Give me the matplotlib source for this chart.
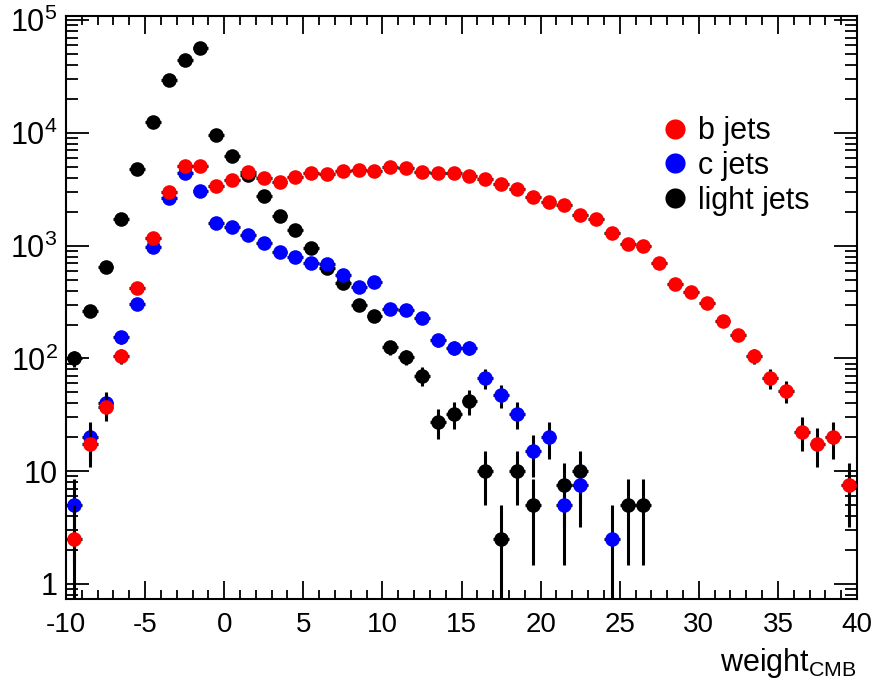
import numpy as np
import matplotlib
matplotlib.use("Agg")
import matplotlib.pyplot as plt
from matplotlib.lines import Line2D
from matplotlib.ticker import FuncFormatter, MultipleLocator, LogLocator, NullFormatter

plt.rcParams['font.family'] = ['Liberation Sans', 'DejaVu Sans']
plt.rcParams['mathtext.fontset'] = 'custom'
plt.rcParams['mathtext.rm'] = 'Liberation Sans'
plt.rcParams['mathtext.it'] = 'Liberation Sans:italic'
plt.rcParams['axes.unicode_minus'] = False

# bin edges: 1 unit bins from -10 to 40
bin_lo = np.arange(-10, 40)
bin_centers = bin_lo + 0.5

b_jets = [2.5, 17.5, 37.5, 105, 422, 1170, 3000, 5100, 5100, 3390,
          3830, 4510, 3990, 3680, 4070, 4420, 4330, 4600, 4700, 4600,
          4990, 4890, 4510, 4420, 4420, 4150, 3910, 3530, 3190, 2710,
          2440, 2300, 1870, 1730, 1300, 1040, 995, 703, 458, 389,
          311, 215, 162, 105, 67, 51.5, 22.5, 17.5, 20, 7.5]

c_jets = [5, 20, 40, 155, 304, 975, 2650, 4420, 3080, 1590,
          1470, 1245, 1060, 880, 795, 703, 690, 550, 431, 477,
          275, 269, 229, 146, 124, 124, 67, 47.5, 32.5, 15,
          20, 5, 7.5, 0, 2.5, 0, 0, 0, 0, 0,
          0, 0, 0, 0, 0, 0, 0, 0, 0, 0]

light_jets = [100, 264, 648, 1730, 4800, 12500, 29500, 44400, 56700, 9600,
              6250, 4240, 2760, 1840, 1380, 955, 635, 467, 298, 238,
              126, 103, 70, 27.5, 32.5, 42, 10, 2.5, 10, 5,
              0, 7.5, 10, 0, 0, 5, 5, 0, 0, 0,
              0, 0, 0, 0, 0, 0, 0, 0, 0, 0]

event_weight = 2.5  # per-entry weight, errors are sqrt(sum w^2)

series = [("light jets", light_jets, "black", 3),
          ("c jets", c_jets, "#0000ff", 4),
          ("b jets", b_jets, "#ff0000", 5)]

fig = plt.figure(figsize=(8.85, 6.93), dpi=100)
ax = fig.add_axes([66 / 885, 1 - 599 / 693, 791 / 885, 583 / 693])
ax.set_yscale('log')

for name, vals, col, z in series:
    vals = np.array(vals, dtype=float)
    keep = vals > 0
    x = bin_centers[keep]
    y = vals[keep]
    err = np.sqrt(event_weight * y)
    lower = np.where(err >= y, y - 1e-4, err)
    ax.errorbar(x, y, xerr=0.5, yerr=[lower, err], fmt='o', color=col,
                ecolor='black', elinewidth=2.2, capsize=0, markersize=10.5,
                markeredgewidth=0, zorder=z)

ax.set_xlim(-10, 40)
ax.set_ylim(0.736, 1.09e5)

ax.xaxis.set_major_locator(MultipleLocator(5))
ax.xaxis.set_minor_locator(MultipleLocator(1))
ax.yaxis.set_major_locator(LogLocator(base=10))
ax.yaxis.set_minor_locator(LogLocator(base=10, subs=np.arange(2, 10)))
ax.yaxis.set_minor_formatter(NullFormatter())


def log_label(v, pos):
    p = int(round(np.log10(v)))
    if p == 0:
        return "1"
    if p == 1:
        return "10"
    return r"$\mathdefault{10^{%d}}$" % p


ax.yaxis.set_major_formatter(FuncFormatter(log_label))

ax.tick_params(axis='both', which='both', direction='in', top=True, right=True,
               width=1.3)
ax.tick_params(axis='x', which='major', length=13, pad=9, labelsize=20)
ax.tick_params(axis='x', which='minor', length=6.5)
ax.tick_params(axis='y', which='major', length=16.5, pad=6, labelsize=22)
ax.tick_params(axis='y', which='minor', length=8.5)
for s in ax.spines.values():
    s.set_linewidth(1.5)

ax.set_xlabel(r"weight$_{\mathdefault{CMB}}$", fontsize=22, loc='right', labelpad=6)

handles = [Line2D([], [], marker='o', ls='none', color=col, markersize=14.5,
                  markeredgewidth=0) for _, _, col, _ in series[::-1]]
labels = [name for name, _, _, _ in series[::-1]]
ax.legend(handles, labels, loc='upper left', bbox_to_anchor=(0.754, 0.828),
          frameon=False, fontsize=22, handlelength=0.85,
          handletextpad=0.3, labelspacing=0.16, borderpad=0, borderaxespad=0)

fig.savefig("out.png", dpi=100)
